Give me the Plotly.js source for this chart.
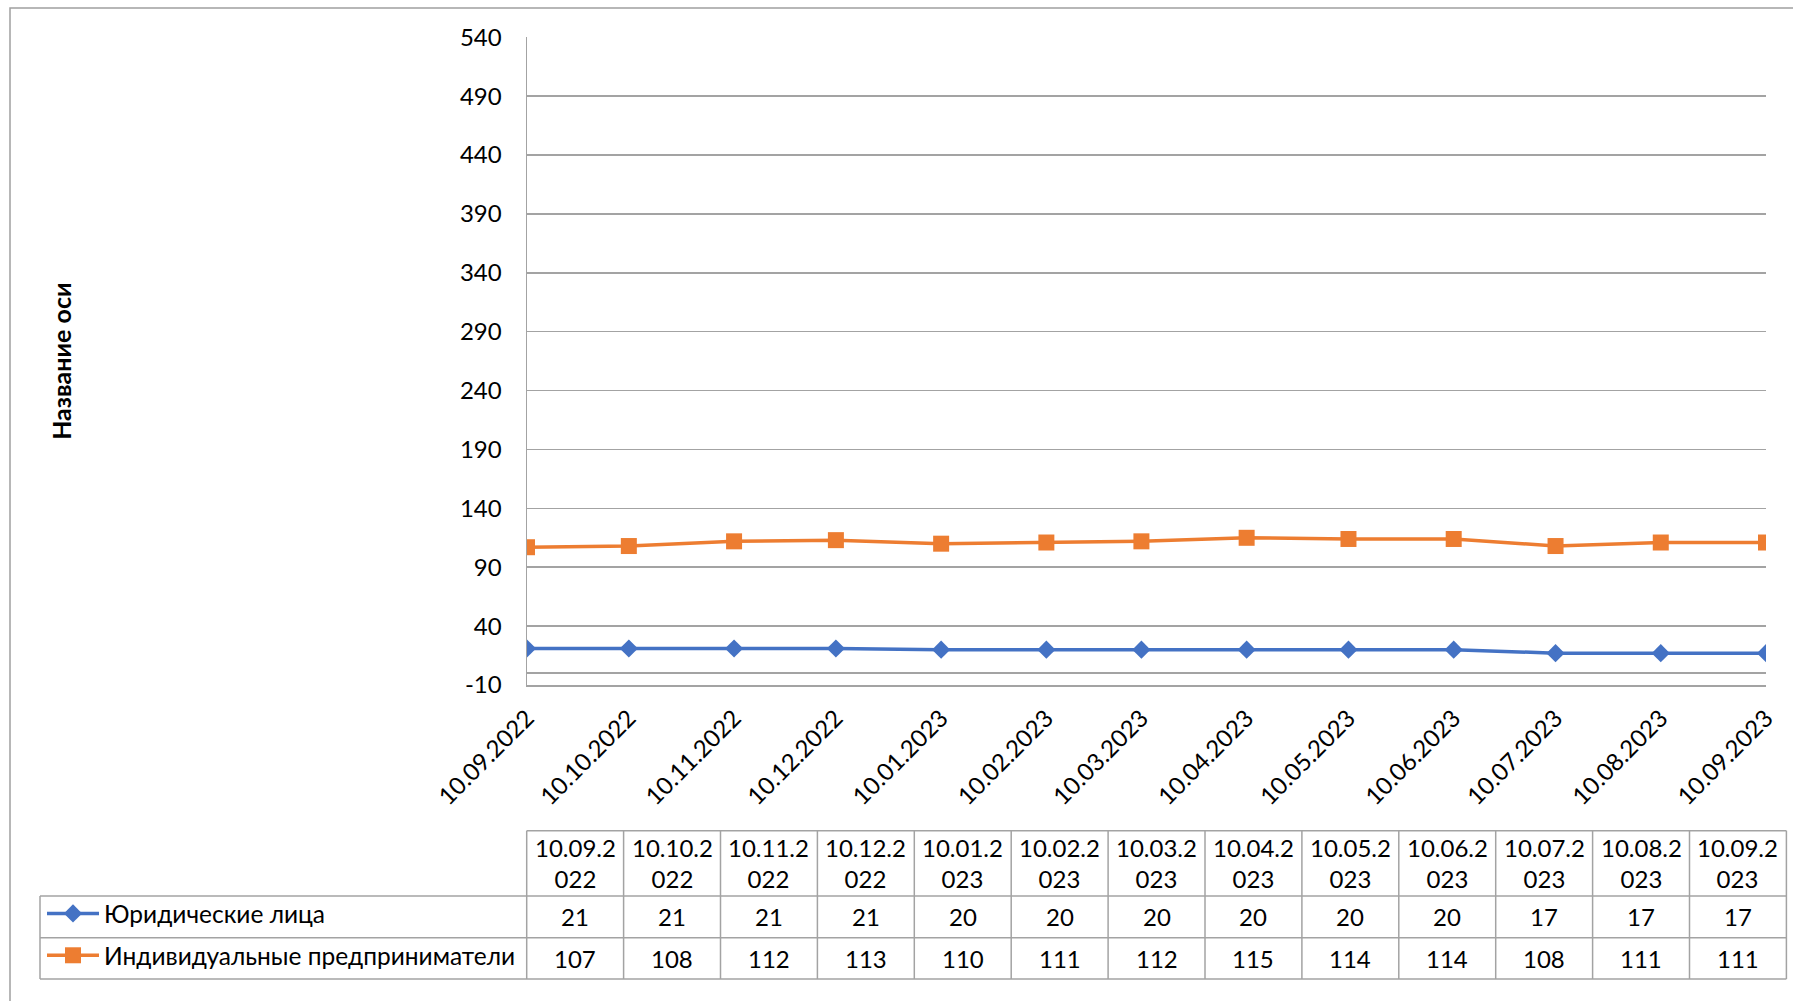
<!DOCTYPE html>
<html>
<head>
<meta charset="utf-8">
<script src="https://cdn.plot.ly/plotly-3.0.1.min.js"></script>
<style>html,body{margin:0;padding:0;background:#fff;}#chart{width:1793px;height:1001px;}</style>
</head>
<body>
<div id="chart"></div>
<script>
// ---- data ----
const dates = ['2022-09-10','2022-10-10','2022-11-10','2022-12-10','2023-01-10','2023-02-10','2023-03-10','2023-04-10','2023-05-10','2023-06-10','2023-07-10','2023-08-10','2023-09-10'];
const dateLabels = ['10.09.2022','10.10.2022','10.11.2022','10.12.2022','10.01.2023','10.02.2023','10.03.2023','10.04.2023','10.05.2023','10.06.2023','10.07.2023','10.08.2023','10.09.2023'];
const legalEntities = [21,21,21,21,20,20,20,20,20,20,17,17,17];
const entrepreneurs = [107,108,112,113,110,111,112,115,114,114,108,111,111];
const seriesNames = ['Юридические лица','Индивидуальные предприниматели'];
const yTickVals = [-10,40,90,140,190,240,290,340,390,440,490,540];
const yTickText = ['-10','40','90','140','190','240','290','340','390','440','490','540'];
const yTitle = 'Название оси';

// ---- geometry helpers (pixel -> paper) ----
const W = 1793, H = 1001;
const px = x => x / W;
const py = y => 1 - y / H;
const FONT = 'Lato, "Open Sans", sans-serif';
const GRID = '#a3a3a3';

const traces = [
  {x: dates, y: legalEntities, name: seriesNames[0], type: 'scatter', mode: 'lines+markers',
   line: {color: '#4472C4', width: 3.5}, marker: {symbol: 'diamond', size: 14, color: '#4472C4'},
   legendgroup: 'a'},
  {x: dates, y: entrepreneurs, name: seriesNames[1], type: 'scatter', mode: 'lines+markers',
   line: {color: '#ED7D31', width: 3.5}, marker: {symbol: 'square', size: 16, color: '#ED7D31'},
   legendgroup: 'b'}
];

// ---- data table (shapes + annotations) ----
const tblLeft = 526.7, colW = 96.9, nCols = dates.length, tblRight = tblLeft + colW * nCols;
const yHeadTop = 830.7, yRow1 = 896, yRow2 = 937.7, yBottom = 979, legLeft = 40;
const shapes = [];
const line = (x0, y0, x1, y1) => shapes.push({type: 'line', xref: 'paper', yref: 'paper',
  x0: px(x0), y0: py(y0), x1: px(x1), y1: py(y1), line: {color: GRID, width: 1.5}});
line(tblLeft, yHeadTop, tblRight, yHeadTop);
line(legLeft, yRow1, tblRight, yRow1);
line(legLeft, yRow2, tblRight, yRow2);
line(legLeft, yBottom, tblRight, yBottom);
line(legLeft, yRow1, legLeft, yBottom);
for (let i = 0; i <= nCols; i++) line(tblLeft + colW * i, yHeadTop, tblLeft + colW * i, yBottom);
// chart outer border
shapes.push({type: 'rect', xref: 'paper', yref: 'paper', x0: px(10), y0: -0.05, x1: 1.05, y1: py(8),
  line: {color: '#a0a0a0', width: 1.5}, fillcolor: 'rgba(0,0,0,0)'});

const annotations = [];
const cellFont = {family: FONT, size: 24, color: '#000'};
dateLabels.forEach((lab, i) => {
  const cx = px(tblLeft + colW * (i + 0.5));
  annotations.push({xref: 'paper', yref: 'paper', x: cx, y: py((yHeadTop + yRow1) / 2),
    text: lab.slice(0, 7) + '<br>' + lab.slice(7), showarrow: false, font: cellFont,
    xanchor: 'center', yanchor: 'middle'});
  annotations.push({xref: 'paper', yref: 'paper', x: cx, y: py((yRow1 + yRow2) / 2),
    text: String(legalEntities[i]), showarrow: false, font: cellFont, xanchor: 'center', yanchor: 'middle'});
  annotations.push({xref: 'paper', yref: 'paper', x: cx, y: py((yRow2 + yBottom) / 2),
    text: String(entrepreneurs[i]), showarrow: false, font: cellFont, xanchor: 'center', yanchor: 'middle'});
});

const layout = {
  width: W, height: H,
  margin: {l: 0, r: 0, t: 0, b: 0},
  paper_bgcolor: '#fff', plot_bgcolor: '#fff',
  font: {family: FONT, size: 24, color: '#000'},
  xaxis: {
    type: 'date', domain: [px(527), px(1766)],
    range: [dates[0], dates[dates.length - 1]],
    tickvals: dates, ticktext: dateLabels, tickangle: -45,
    showgrid: false, showline: true, linecolor: GRID, linewidth: 1.5,
    ticks: '', zeroline: false, tickfont: {family: FONT, size: 24, color: '#000'},
    ticklabelstandoff: 8, fixedrange: true
  },
  yaxis: {
    domain: [py(685), py(37.3)],
    range: [-10, 540], tickmode: 'array', tickvals: yTickVals, ticktext: yTickText,
    showgrid: true, gridcolor: GRID, gridwidth: 1.5,
    showline: true, linecolor: GRID, linewidth: 1.5,
    zeroline: true, zerolinecolor: GRID, zerolinewidth: 1.5,
    ticks: '', ticklabelstandoff: 19,
    tickfont: {family: FONT, size: 24, color: '#000'},
    title: {text: yTitle, font: {family: FONT, size: 25, color: '#000', weight: 'bold'}, standoff: 381},
    fixedrange: true
  },
  showlegend: true,
  legend: {x: px(42), xanchor: 'left', y: py(891), yanchor: 'top',
    font: {family: FONT, size: 24.5, color: '#000'}, bgcolor: 'rgba(0,0,0,0)',
    tracegroupgap: 7, itemwidth: 52},
  shapes: shapes,
  annotations: annotations
};

Plotly.newPlot('chart', traces, layout, {displayModeBar: false, staticPlot: true});
</script>
</body>
</html>
